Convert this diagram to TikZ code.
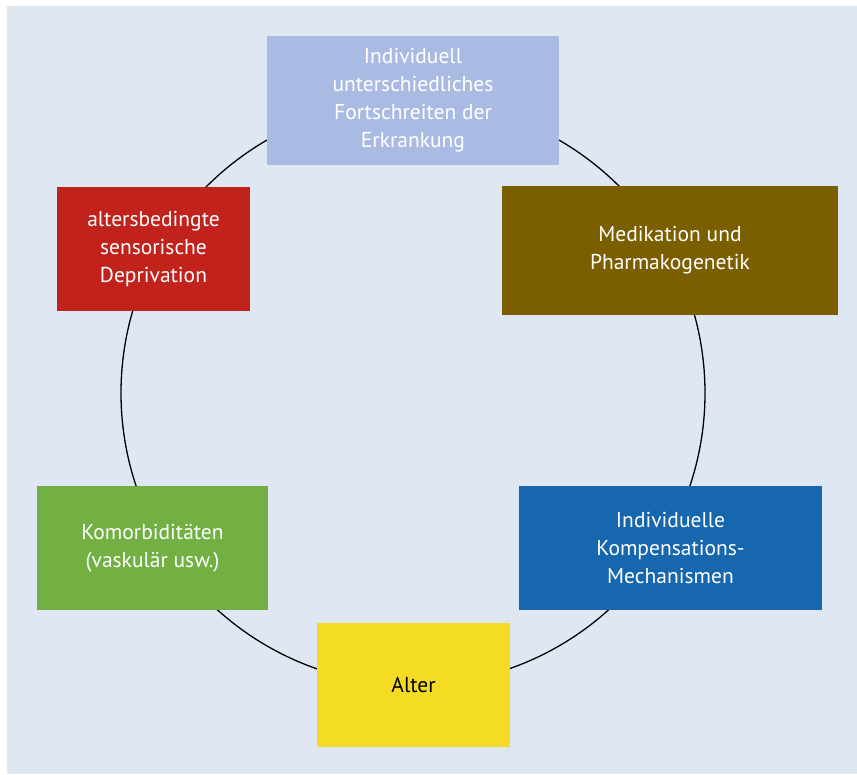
\documentclass[tikz,border=0pt]{standalone}
\usepackage{fontspec}
\setmainfont{PT Sans}
\usepackage{tikz}
\usetikzlibrary{positioning}
\definecolor{bgblue}{RGB}{223,232,242}
\definecolor{progblue}{RGB}{170,187,227}
\definecolor{medbrown}{RGB}{123,94,0}
\definecolor{kompblue}{RGB}{23,103,174}
\definecolor{alteryellow}{RGB}{245,220,36}
\definecolor{komgreen}{RGB}{114,176,67}
\definecolor{depred}{RGB}{193,34,27}

\begin{document}
\begin{tikzpicture}[
    x=1pt, y=-1pt,
    factor/.style={fill=#1, text=white, align=center, inner sep=0pt,
        font=\fontsize{21.5}{28}\selectfont}
]
% background
\fill[white] (0,0) rectangle (857,774);
\fill[bgblue] (7,6) rectangle (857,774);
\useasboundingbox (0,0) rectangle (857,774);

% cycle
\coordinate (mid) at (413,393);
\draw[line width=1.3pt] (mid) circle[radius=292];

% factors
\node[factor=progblue, minimum width=292, minimum height=129] (prog) at (413,100.5) {Individuell\\unterschiedliches\\Fortschreiten der\\Erkrankung};
\node[factor=medbrown, minimum width=336, minimum height=129] (med) at (670,250.5) {Medikation und\\Pharmakogenetik};
\node[factor=kompblue, minimum width=303, minimum height=124] (komp) at (670.5,548) {Individuelle\\Kompensations-\\Mechanismen};
\node[factor=alteryellow, text=black, minimum width=193, minimum height=124] (alter) at (413.5,685) {Alter};
\node[factor=komgreen, minimum width=231, minimum height=124] (komorb) at (152.5,548) {Komorbiditäten\\(vaskulär usw.)};
\node[factor=depred, minimum width=193, minimum height=124] (dep) at (153.5,249) {altersbedingte\\sensorische\\Deprivation};
\end{tikzpicture}
\end{document}
